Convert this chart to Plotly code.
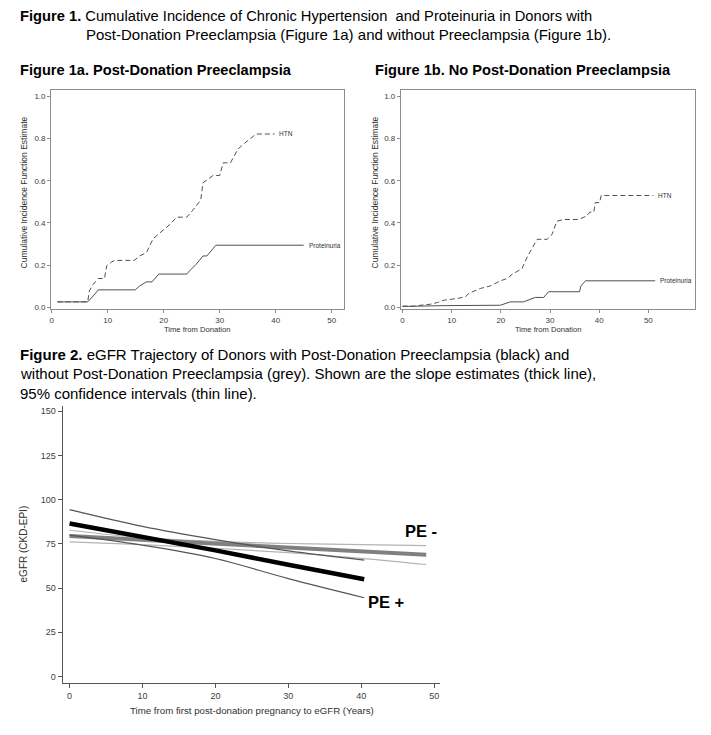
import plotly.graph_objects as go

W, H = 711, 735

# ---------------- Figure 1a data (post-donation preeclampsia) ----------------
fig1a_htn_x = [1.0, 6.4, 6.7, 7.4, 8.3, 9.4, 9.8, 10.7, 11.3, 14.7, 15.7, 16.9, 18.1, 19.6, 21.1, 22.3,
               24.1, 25.3, 26.6, 27.0, 27.9, 28.8, 30.0, 30.6, 31.9, 33.2, 33.9, 36.5, 39.8]
fig1a_htn_y = [0.025, 0.025, 0.077, 0.109, 0.136, 0.136, 0.196, 0.215, 0.222, 0.222, 0.243, 0.259, 0.325,
               0.358, 0.393, 0.427, 0.427, 0.464, 0.508, 0.590, 0.606, 0.625, 0.625, 0.685, 0.685, 0.748,
               0.767, 0.822, 0.822]
fig1a_prot_x = [1.0, 6.4, 7.4, 8.3, 14.9, 15.7, 16.9, 17.9, 19.1, 24.1, 24.6, 25.8, 27.0, 27.7, 29.3, 45.0]
fig1a_prot_y = [0.025, 0.025, 0.053, 0.082, 0.082, 0.101, 0.120, 0.120, 0.157, 0.157, 0.172, 0.204,
                0.243, 0.243, 0.294, 0.294]

# ---------------- Figure 1b data (no post-donation preeclampsia) ----------------
fig1b_htn_x = [0, 2.4, 3.7, 5.7, 7.1, 8.4, 11.1, 12.8, 13.5, 15.9, 17.9, 19.9, 21.3, 22.3, 24.3, 25.3,
               26.4, 27.4, 29.4, 30.4, 31.4, 32.8, 35.8, 37.4, 38.1, 38.9, 39.2, 40.1, 40.4, 51.0]
fig1b_htn_y = [0.005, 0.005, 0.009, 0.014, 0.022, 0.033, 0.041, 0.049, 0.066, 0.089, 0.101, 0.125, 0.136,
               0.156, 0.183, 0.235, 0.282, 0.322, 0.322, 0.345, 0.408, 0.416, 0.416, 0.432, 0.451, 0.451,
               0.496, 0.496, 0.530, 0.530]
fig1b_prot_x = [0, 7.8, 19.9, 21.9, 24.6, 26.4, 27.0, 28.7, 29.7, 36.0, 36.3, 37.2, 51.4]
fig1b_prot_y = [0.003, 0.007, 0.009, 0.025, 0.025, 0.038, 0.046, 0.046, 0.073, 0.073, 0.101, 0.125, 0.125]

# ---------------- Figure 2 data (eGFR trajectories) ----------------
pe_pos_x = [0, 10, 20, 30, 40.4]
pe_pos_est = [86.5, 79.0, 71.3, 63.2, 55.0]
pe_pos_upper = [94.4, 84.9, 77.4, 71.0, 65.8]
pe_pos_lower = [79.9, 74.2, 66.7, 55.3, 44.5]

pe_neg_x = [0, 10, 20, 30, 40, 48.9]
pe_neg_est = [79.5, 77.3, 75.1, 73.0, 70.8, 68.8]
pe_neg_upper = [82.7, 78.5, 76.4, 75.2, 74.5, 74.0]
pe_neg_lower = [76.1, 74.5, 72.5, 70.0, 66.8, 63.3]

fig1_yticks = [0.0, 0.2, 0.4, 0.6, 0.8, 1.0]
fig1_xticks = [0, 10, 20, 30, 40, 50]
fig2_yticks = [0, 25, 50, 75, 100, 125, 150]
fig2_xticks = [0, 10, 20, 30, 40, 50]

FONT = "Liberation Sans, Arial, sans-serif"
LINE1 = "#505050"

fig = go.Figure()

# Fig 1a curves
fig.add_trace(go.Scatter(x=fig1a_htn_x, y=fig1a_htn_y, mode="lines", xaxis="x", yaxis="y",
                         line=dict(color=LINE1, width=1, dash="5px,3px")))
fig.add_trace(go.Scatter(x=fig1a_prot_x, y=fig1a_prot_y, mode="lines", xaxis="x", yaxis="y",
                         line=dict(color=LINE1, width=1)))
# Fig 1b curves
fig.add_trace(go.Scatter(x=fig1b_htn_x, y=fig1b_htn_y, mode="lines", xaxis="x2", yaxis="y2",
                         line=dict(color=LINE1, width=1, dash="5px,3px")))
fig.add_trace(go.Scatter(x=fig1b_prot_x, y=fig1b_prot_y, mode="lines", xaxis="x2", yaxis="y2",
                         line=dict(color=LINE1, width=1)))

# Fig 2: PE- (grey)
fig.add_trace(go.Scatter(x=pe_neg_x, y=pe_neg_upper, mode="lines", xaxis="x3", yaxis="y3",
                         line=dict(color="#b4b4b4", width=1.2, shape="spline")))
fig.add_trace(go.Scatter(x=pe_neg_x, y=pe_neg_lower, mode="lines", xaxis="x3", yaxis="y3",
                         line=dict(color="#b4b4b4", width=1.2, shape="spline")))
fig.add_trace(go.Scatter(x=pe_neg_x, y=pe_neg_est, mode="lines", xaxis="x3", yaxis="y3",
                         line=dict(color="#808080", width=4)))
# Fig 2: PE+ (black)
fig.add_trace(go.Scatter(x=pe_pos_x, y=pe_pos_upper, mode="lines", xaxis="x3", yaxis="y3",
                         line=dict(color="#555555", width=1.2, shape="spline")))
fig.add_trace(go.Scatter(x=pe_pos_x, y=pe_pos_lower, mode="lines", xaxis="x3", yaxis="y3",
                         line=dict(color="#555555", width=1.2, shape="spline")))
fig.add_trace(go.Scatter(x=pe_pos_x, y=pe_pos_est, mode="lines", xaxis="x3", yaxis="y3",
                         line=dict(color="#000000", width=4.5)))


def px(x):
    return x / W


def py(y):
    return 1 - y / H


box_axis = dict(showline=True, mirror=True, linecolor="#8c8c8c", linewidth=1, showgrid=False,
                zeroline=False, ticks="outside", ticklen=3, tickcolor="#8c8c8c", tickwidth=1,
                tickfont=dict(family=FONT, size=8, color="#404040"))

fig.update_layout(
    width=W, height=H, autosize=False, margin=dict(l=0, r=0, t=0, b=0),
    paper_bgcolor="white", plot_bgcolor="white", showlegend=False,
    xaxis=dict(domain=[px(49.3), px(343)], range=[-0.12, 52.2], tickvals=fig1_xticks, anchor="y", **box_axis),
    yaxis=dict(domain=[py(310.3), py(90)], range=[-0.011, 1.032], tickvals=fig1_yticks, tickformat=".1f",
               anchor="x", **box_axis),
    xaxis2=dict(domain=[px(400), px(695)], range=[-0.34, 59.5], tickvals=fig1_xticks, anchor="y2", **box_axis),
    yaxis2=dict(domain=[py(310.3), py(90)], range=[-0.011, 1.032], tickvals=fig1_yticks, tickformat=".1f",
                anchor="x2", **box_axis),
    xaxis3=dict(domain=[px(60.7), px(439.3)], range=[-0.96, 50.8], tickvals=fig2_xticks, anchor="y3",
                showline=True, linecolor="#555555", linewidth=1, showgrid=False, zeroline=False,
                ticks="outside", ticklen=4, tickcolor="#555555",
                tickfont=dict(family=FONT, size=9, color="#404040")),
    yaxis3=dict(domain=[py(685), py(406.7)], range=[-3.8, 153.2], tickvals=fig2_yticks, anchor="x3",
                showline=True, linecolor="#555555", linewidth=1, showgrid=False, zeroline=False,
                ticks="outside", ticklen=4, tickcolor="#555555",
                tickfont=dict(family=FONT, size=9, color="#404040")),
)

ann = []


def text(x, y, s, size, bold=False, color="black", xanchor="left", angle=0):
    ann.append(dict(x=px(x), y=py(y), xref="paper", yref="paper", text=(f"<b>{s}</b>" if bold else s),
                    showarrow=False, xanchor=xanchor, yanchor="middle", textangle=angle,
                    font=dict(family=FONT, size=size, color=color)))


# Headers
text(16, 16, "<b>Figure 1.</b> Cumulative Incidence of Chronic Hypertension\u00a0 and Proteinuria in Donors with", 14.7)
text(82, 35, "Post-Donation Preeclampsia (Figure 1a) and without Preeclampsia (Figure 1b).", 15)
text(16, 70, "Figure 1a. Post-Donation Preeclampsia", 14.6, bold=True)
text(372, 70, "Figure 1b. No Post-Donation Preeclampsia", 14.6, bold=True)
text(16, 355, "<b>Figure 2.</b> eGFR Trajectory of Donors with Post-Donation Preeclampsia (black) and", 15)
text(16, 375, "without Post-Donation Preeclampsia (grey). Shown are the slope estimates (thick line),", 15)
text(16, 395, "95% confidence intervals (thin line).", 15)

# Axis titles
text(23, 193, "Cumulative Incidence Function Estimate", 8.5, color="#303030", xanchor="center", angle=-90)
text(375, 193, "Cumulative Incidence Function Estimate", 8.5, color="#303030", xanchor="center", angle=-90)
text(196, 330, "Time from Donation", 7.6, color="#303030", xanchor="center")
text(548, 330, "Time from Donation", 7.6, color="#303030", xanchor="center")
text(22, 545, "eGFR (CKD-EPI)", 10, color="#303030", xanchor="center", angle=-90)
text(251, 712, "Time from first post-donation pregnancy to eGFR (Years)", 9.7, color="#303030", xanchor="center")

# Curve labels (data coordinates)
curve_labels = [
    ("x", "y", fig1a_htn_x[-1] + 0.5, fig1a_htn_y[-1], "HTN"),
    ("x", "y", fig1a_prot_x[-1] + 0.5, fig1a_prot_y[-1], "Proteinuria"),
    ("x2", "y2", fig1b_htn_x[-1] + 0.6, fig1b_htn_y[-1], "HTN"),
    ("x2", "y2", fig1b_prot_x[-1] + 0.5, fig1b_prot_y[-1], "Proteinuria"),
]
for xr, yr, xv, yv, s in curve_labels:
    ann.append(dict(x=xv, y=yv, xref=xr, yref=yr, text=s, showarrow=False, xanchor="left",
                    yanchor="middle", font=dict(family=FONT, size=6.5, color="#303030")))

ann.append(dict(x=45.7, y=82.0, xref="x3", yref="y3", text="<b>PE -</b>", showarrow=False, xanchor="left",
                yanchor="middle", font=dict(family=FONT, size=16.5, color="black")))
ann.append(dict(x=40.6, y=42.3, xref="x3", yref="y3", text="<b>PE +</b>", showarrow=False, xanchor="left",
                yanchor="middle", font=dict(family=FONT, size=16.5, color="black")))

fig.update_layout(annotations=ann)
fig.write_html("out.html", config={"displayModeBar": False},
               post_script="document.body.style.margin='0';document.body.style.padding='0';")
